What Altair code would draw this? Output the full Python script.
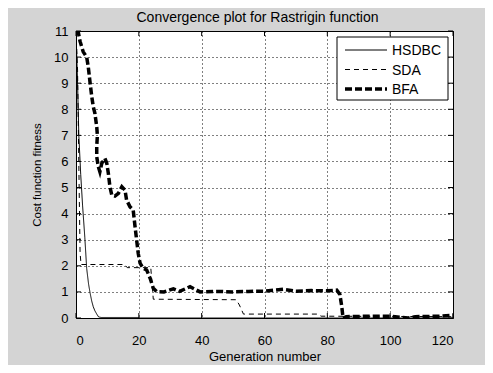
import altair as alt
import pandas as pd

# ---- data ----
hsdbc_x = [0, 0.5, 0.9, 1.5, 2.1, 2.8, 3.4, 4.0, 4.5, 5.0, 5.5, 6.0, 6.6, 7.2, 8.0, 20, 20.5, 120]
hsdbc_y = [11, 9.0, 7.0, 5.5, 4.3, 3.1, 1.9, 1.3, 0.95, 0.65, 0.43, 0.28, 0.15, 0.04, 0.02, 0.02, 0.0, 0.0]

sda_x = [0, 0.5, 1.0, 1.3, 1.6, 15.5, 16.3, 23.8, 24.6, 51, 52, 53.3, 77, 78, 120]
sda_y = [11, 9.5, 5.0, 2.5, 2.05, 2.05, 1.93, 1.93, 0.72, 0.70, 0.5, 0.15, 0.15, 0.07, 0.05]

bfa_x = [0, 0.7, 1.3, 1.8, 2.3, 3.4, 3.9, 4.5, 5.0, 5.5, 6.0, 6.6, 6.8, 6.6, 6.6, 7.1, 7.6,
         8.2, 9.2, 9.8, 10.3, 10.8, 11.4, 12.4, 13.5, 14.6, 15.6, 16.1, 17.2, 18.2, 18.8,
         19.3, 19.8, 20.4, 21.4, 22.5, 23.6, 24.6, 25.7, 28, 31, 33, 36.3, 39.5, 45, 50,
         55, 60, 66, 70, 75, 80, 83, 84, 84.6, 85, 86, 90, 95, 100, 105.7, 108, 112, 116, 120]
bfa_y = [11, 10.97, 10.6, 10.4, 10.2, 10.0, 9.63, 9.0, 8.5, 8.1, 7.85, 7.33, 7.0, 6.56, 6.18,
         5.8, 5.6, 5.93, 6.12, 5.93, 5.54, 5.03, 4.71, 4.67, 4.78, 5.03, 4.9, 4.52, 4.26,
         4.14, 3.5, 2.99, 2.48, 2.1, 1.9, 1.84, 1.52, 1.14, 1.01, 1.0, 1.12, 1.02, 1.2, 1.0,
         1.02, 1.0, 1.02, 1.03, 1.1, 1.03, 1.05, 1.04, 1.07, 0.9, 0.43, 0.0, 0.05, 0.06,
         0.07, 0.07, 0.0, 0.05, 0.06, 0.07, 0.1]

series_names = ["HSDBC", "SDA", "BFA"]
x_ticks = [0, 20, 40, 60, 80, 100, 120]
y_ticks = list(range(0, 12))

series_data = {"HSDBC": (hsdbc_x, hsdbc_y), "SDA": (sda_x, sda_y), "BFA": (bfa_x, bfa_y)}
styles = {"HSDBC": dict(strokeDash=[1, 0], strokeWidth=1),
          "SDA": dict(strokeDash=[5, 4], strokeWidth=1),
          "BFA": dict(strokeDash=[7, 3], strokeWidth=3.5)}

W, H = 377, 287
FONT = "Liberation Sans"

xscale = alt.Scale(domain=[0, 120], nice=False, zero=False)
yscale = alt.Scale(domain=[0, 11], nice=False, zero=False)

xaxis = alt.Axis(values=x_ticks, title="Generation number", grid=True,
                 gridDash=[1, 3], gridColor="black", gridOpacity=1,
                 domain=False, ticks=False, tickSize=0, labelPadding=16,
                 labelFontSize=13, titleFontSize=13, titleFontWeight="normal",
                 titlePadding=3, labelColor="black", titleColor="black",
                 labelFont=FONT, titleFont=FONT, labelOverlap=False)
yaxis = alt.Axis(values=y_ticks, title="Cost function fitness", grid=True,
                 gridDash=[1, 3], gridColor="black", gridOpacity=1,
                 domain=False, ticks=False, tickSize=0, labelPadding=8,
                 labelFontSize=13, titleFontSize=11.5, titleFontWeight="normal",
                 titlePadding=11, labelColor="black", titleColor="black",
                 labelFont=FONT, titleFont=FONT, labelOverlap=False)

X = lambda: alt.X("gen:Q", scale=xscale, axis=xaxis)
Y = lambda: alt.Y("cost:Q", scale=yscale, axis=yaxis)

layers = []
tick_df = pd.DataFrame({"gen": x_ticks})
ytick_df = pd.DataFrame({"cost": y_ticks})
# inward tick marks on all four sides
layers.append(alt.Chart(tick_df).mark_rule(color="black").encode(
    x=X(), y=alt.value(H), y2=alt.value(H - 5)))
layers.append(alt.Chart(tick_df).mark_rule(color="black").encode(
    x=X(), y=alt.value(0), y2=alt.value(5)))
layers.append(alt.Chart(ytick_df).mark_rule(color="black").encode(
    y=Y(), x=alt.value(0), x2=alt.value(5)))
layers.append(alt.Chart(ytick_df).mark_rule(color="black").encode(
    y=Y(), x=alt.value(W), x2=alt.value(W - 5)))

for name in series_names:
    xs, ys = series_data[name]
    d = pd.DataFrame({"gen": xs, "cost": ys, "idx": list(range(len(xs)))})
    layers.append(alt.Chart(d).mark_line(color="black", clip=True, **styles[name]).encode(
        x=X(), y=Y(), order="idx:Q"))

# legend box (inside the plot, top-right)
LX0, LX1, LY0, LY1 = 261, 372, 6, 69
layers.append(alt.Chart(pd.DataFrame({"a": [0]})).mark_rect(
    fill="white", stroke="black", strokeWidth=1).encode(
    x=alt.value(LX0), x2=alt.value(LX1), y=alt.value(LY0), y2=alt.value(LY1)))
for i, name in enumerate(series_names):
    yy = 19 + 19.5 * i
    leg = pd.DataFrame({"series": [name]})
    layers.append(alt.Chart(leg).mark_rule(color="black", **styles[name]).encode(
        x=alt.value(269), x2=alt.value(311), y=alt.value(yy)))
    layers.append(alt.Chart(leg).mark_text(
        align="left", baseline="middle", font=FONT, fontSize=14, color="black").encode(
        x=alt.value(316), y=alt.value(yy + 1), text="series:N"))

chart = alt.layer(*layers).properties(
    width=W, height=H,
    title=alt.TitleParams("Convergence plot for Rastrigin function", fontSize=14,
                          fontWeight="normal", font=FONT, color="black", offset=0, dx=-7),
    autosize=alt.AutoSizeParams(type="none"),
    padding={"left": 68, "top": 23, "right": 32, "bottom": 47},
    background="#d4d4d4",
).configure_view(
    fill="white", stroke="black", strokeWidth=1
)

chart.save("out.html", embed_options={"renderer": "svg", "actions": False})
